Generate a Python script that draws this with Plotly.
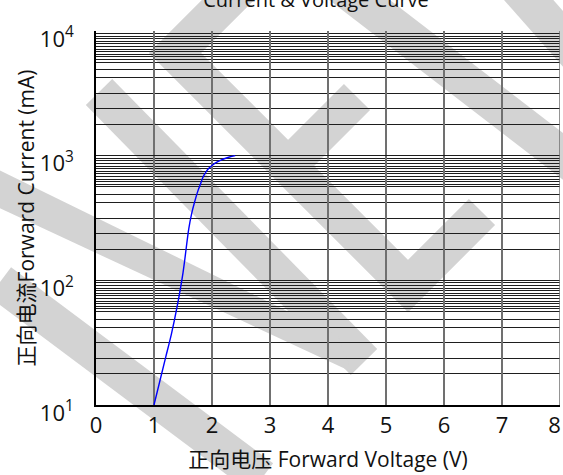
import numpy as np
import plotly.graph_objects as go

# ---- data ----
voltage = [1.0, 1.1, 1.2, 1.3, 1.4, 1.5, 1.6, 1.65, 1.7, 1.75, 1.8, 1.85, 1.9, 1.95, 2.0, 2.1, 2.2, 2.3, 2.4]
current = [10, 15.5, 24, 37, 62, 115, 260, 345, 425, 510, 590, 680, 745, 795, 835, 895, 940, 975, 1000]

x_ticks = [0, 1, 2, 3, 4, 5, 6, 7, 8]
x_tick_text = ["0", "1", "2", "3", "4", "5", "6", "7", "8\u2002"]
y_major = [10, 100, 1000, 10000]
y_major_text = ["10<sup>1</sup>", "10<sup>2</sup>", "10<sup>3</sup>", "10<sup>4</sup>"]
decades = [1, 2, 3]
grid_fracs = [0.25, 0.375, 0.5, 0.625, 0.6875] + [0.75 + k / 48 for k in range(12)]
y_minor = [10 ** (d + f) for d in decades for f in grid_fracs]

title_text = "Current & Voltage Curve"
x_title = "正向电压 Forward Voltage (V)"
y_title = "正向电流Forward Current (mA)"

FONT = "Open Sans, Noto Sans CJK SC, sans-serif"

fig = go.Figure()
fig.add_trace(go.Scatter(x=voltage, y=current, mode="lines",
                         line=dict(color="#0000ff", width=1.4, shape="spline"),
                         showlegend=False, hoverinfo="skip"))

# ---- watermark (decorative bands, pixel geometry -> paper coords) ----
L, R, T, B = 96, 560, 31, 405
def pp(px, py):
    return (px - L) / (R - L), (B - py) / (B - T)

def stroke_path(pts):
    s = ""
    for i, (px, py) in enumerate(pts):
        x, y = pp(px, py)
        s += ("M" if i == 0 else "L") + f"{x:.4f},{y:.4f} "
    return s

def poly_path(pts):
    return stroke_path(pts) + "Z"

WM = "#d3d3d3"
W = 37
shapes = []
for pts in [
    [(242, -14), (175, 53), (408, 286), (482, 212)],
    [(288, 166), (357, 97)],
    [(99, 92), (364, 362)],
    [(0, 282), (262, 478)],
    [(340, -15), (578, 168)],
    [(518, -12), (580, 58)],
]:
    shapes.append(dict(type="path", xref="paper", yref="paper", path=stroke_path(pts),
                       line=dict(color=WM, width=W), layer="below"))
shapes.append(dict(type="path", xref="paper", yref="paper",
                   path=poly_path([(-5, 168), (338, 336), (352, 372), (-5, 206)]),
                   fillcolor=WM, line=dict(width=0), layer="below"))
# right border grid line at x = 8
shapes.append(dict(type="line", xref="x", yref="paper", x0=x_ticks[-1], x1=x_ticks[-1],
                   y0=0, y1=1, line=dict(color="#707070", width=1.5), layer="above"))

fig.update_layout(
    width=563, height=475,
    margin=dict(l=L, r=563 - R, t=T, b=475 - B, autoexpand=False),
    paper_bgcolor="white", plot_bgcolor="rgba(0,0,0,0)",
    font=dict(family=FONT, color="#111111"),
    shapes=shapes,
    title=dict(text=title_text, x=316 / 563, xref="container", y=1.0, yref="container",
               yanchor="middle", font=dict(size=20, color="#111111")),
    xaxis=dict(range=[0, 8], tickvals=x_ticks, ticktext=x_tick_text, ticks="", showgrid=True,
               gridcolor="#707070", gridwidth=1.5, zeroline=False, automargin=False,
               showline=True, linecolor="#000000", linewidth=1.5,
               ticklabeloverflow="allow",
               tickfont=dict(size=22), ticklabelstandoff=0,
               title=dict(text=x_title, font=dict(size=21), standoff=14)),
    yaxis=dict(type="log", range=[1, 4], tickvals=y_major, ticktext=y_major_text,
               ticks="", showgrid=True, gridcolor="#1e1e1e", gridwidth=1,
               zeroline=False, showline=True, linecolor="#000000", linewidth=1.5,
               automargin=False, ticklabeloverflow="allow",
               tickfont=dict(size=22), ticklabelstandoff=16, ticklabelshift=8,
               minor=dict(tickvals=y_minor, showgrid=True, gridcolor="#1e1e1e",
                          gridwidth=1, ticks=""),
               title=dict(text=y_title, font=dict(size=21), standoff=0)),
)

fig.write_html("out.html", config={"displayModeBar": False},
               post_script="document.body.style.margin='0';document.body.style.overflow='hidden';")
